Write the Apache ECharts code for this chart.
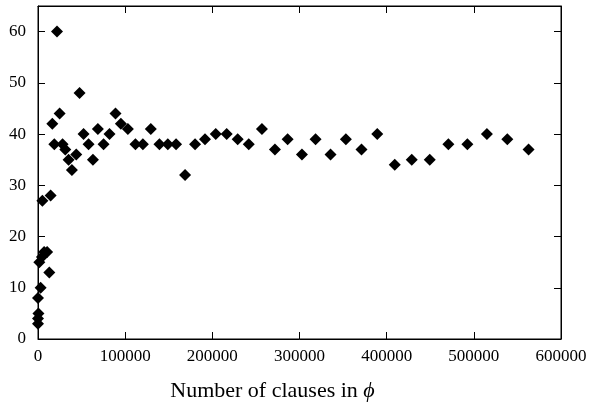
<!DOCTYPE html>
<html>
<head>
<meta charset="utf-8">
<script src="https://cdn.jsdelivr.net/npm/echarts@6/dist/echarts.min.js"></script>
<style>
  html, body { margin: 0; padding: 0; background: #fff; }
  #main { width: 592px; height: 404px; }
</style>
</head>
<body>
<div id="main"></div>
<script>
var clauses = [
    0, 0, 500, 0, 3000, 1500, 4500, 7000, 10500, 13000, 5000, 14500,
    16400, 18700, 21800, 24800, 28200, 31300, 35100, 38900, 43900, 47700,
    52300, 58000, 63000, 68700, 75200, 82000, 88900, 95100, 103100, 111800,
    120300, 129400, 139300, 148900, 158400, 168700, 180200, 191600, 203900,
    216500, 229100, 241800, 256900, 271800, 286400, 302800, 318400, 335600,
    353200, 371100, 389200, 409300, 428800, 449400, 470800, 492600, 515000,
    538400, 562800
]
var values = [
    3, 4, 5, 8, 10, 15, 16, 17, 17, 13, 27, 28,
    42, 38, 60, 44, 38, 37, 35, 33, 36, 48,
    40, 38, 35, 41, 38, 40, 44, 42, 41, 38,
    38, 41, 38, 38, 38, 32, 38, 39, 40,
    40, 39, 38, 41, 37, 39, 36, 39, 36,
    39, 37, 40, 34, 35, 35, 38, 38, 40,
    39, 37
]

var points = clauses.map(function(c, i) {
    return [c, values[i]]
})

var font = 'Liberation Serif'
// fresh objects each time, echarts likes to keep hold of them
var tick = function() {
    return { show: true, inside: true, length: 7, lineStyle: { color: '#000', width: 1 } }
}
var line = function() {
    return { show: true, onZero: false, lineStyle: { color: '#000', width: 1 } }
}

var myChart = echarts.init(document.querySelector('#main'))
var option = {
    animation: false,
    grid: {
        left: 38, right: 31, top: 6, bottom: 65,
        outerBoundsMode: 'none',
        show: true, borderColor: '#000', borderWidth: 1
    },
    xAxis: [
        {
            type: 'value', position: 'bottom', min: 0, max: 600000, interval: 100000,
            axisLine: line(), axisTick: tick(), splitLine: { show: false },
            axisLabel: {
                color: '#000', fontFamily: font, fontSize: 17, margin: 9,
                formatter: function(v) { return String(v) }
            },
            name: 'Number of clauses in {i|ϕ}',
            nameLocation: 'middle',
            nameGap: 41,
            nameTextStyle: {
                color: '#000', fontFamily: font, fontSize: 22,
                // label sits a bit left of the plot centre in the original
                padding: [0, 54, 0, 0],
                rich: { i: { fontStyle: 'italic', fontFamily: font, fontSize: 22, color: '#000' } }
            }
        },
        {
            type: 'value', position: 'top', min: 0, max: 600000, interval: 100000,
            axisLine: line(), axisTick: tick(), splitLine: { show: false },
            axisLabel: { show: false }
        }
    ],
    yAxis: [
        {
            type: 'value', position: 'left', min: 0, max: 65, interval: 10,
            axisLine: line(), axisTick: tick(), splitLine: { show: false },
            axisLabel: {
                color: '#000', fontFamily: font, fontSize: 17, margin: 12,
                showMaxLabel: false
            }
        },
        {
            type: 'value', position: 'right', min: 0, max: 65, interval: 10,
            axisLine: line(), axisTick: tick(), splitLine: { show: false },
            axisLabel: { show: false }
        }
    ],
    series: [
        {
            type: 'scatter',
            data: points,
            symbol: 'diamond',
            symbolSize: [12, 12],
            itemStyle: { color: '#000', opacity: 1 }
        },
        {
            // empty series so the mirrored axes get drawn
            type: 'scatter', xAxisIndex: 1, yAxisIndex: 1, data: []
        }
    ]
}
myChart.setOption(option)
</script>
</body>
</html>
